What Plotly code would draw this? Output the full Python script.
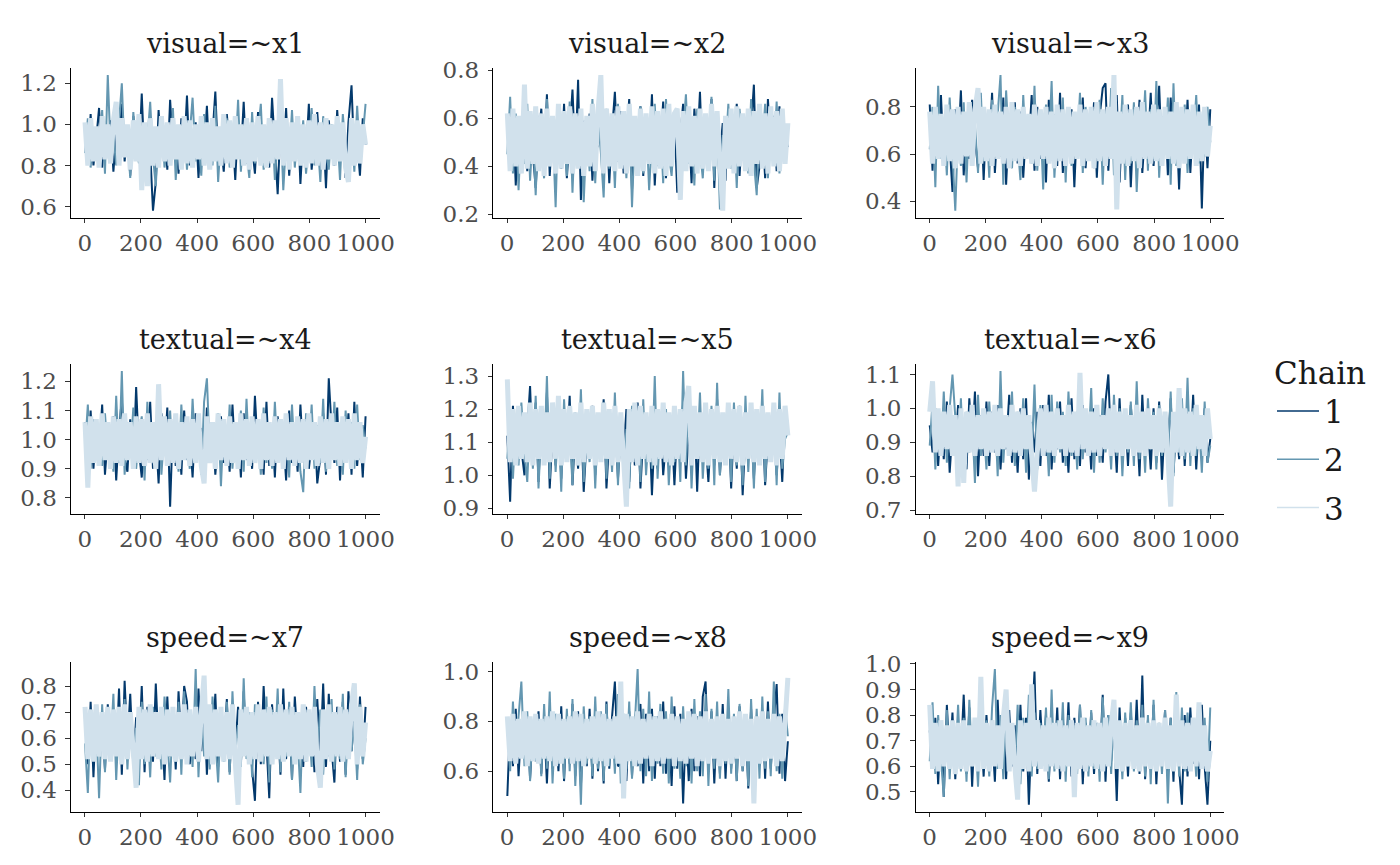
import numpy as np
import plotly.graph_objects as go

# ---------------- data (read / estimated from the picture) ----------------
panel_titles = ["visual=~x1", "visual=~x2", "visual=~x3",
                "textual=~x4", "textual=~x5", "textual=~x6",
                "speed=~x7", "speed=~x8", "speed=~x9"]
chain_names = ["1", "2", "3"]
chain_colors = ["#03396c", "#6497b1", "#d1e1ec"]
chain_widths = [2.0, 2.0, 5.0]
n_draws = 100
iterations = np.linspace(1, 1000, n_draws).round()

x1_chain1 = [0.97,0.84,1.05,0.80,0.93,1.08,0.79,0.99,0.86,1.02, 0.77,0.95,0.88,1.10,0.82,0.97,0.75,1.04,0.90,0.83, 1.15,0.81,0.96,0.87,0.58,0.72,1.07,0.85,0.99,0.78, 1.12,0.89,0.94,0.76,1.03,0.86,1.14,0.80,0.92,1.01, 0.74,0.98,0.87,1.09,0.79,0.95,1.16,0.83,0.90,0.77, 1.05,0.88,0.97,0.73,1.02,0.85,1.11,0.81,0.94,0.89, 0.76,1.06,0.84,0.99,0.92,0.79,1.13,0.87,0.66,1.00, 0.82,1.08,0.75,0.95,0.88,1.04,0.71,0.97,0.85,1.10, 0.78,0.93,1.06,0.84,0.99,0.69,1.02,0.88,0.80,1.07, 0.86,0.96,0.74,1.01,1.19,0.83,0.92,0.75,1.03,0.90]
x1_chain2 = [0.86,1.03,0.79,0.98,0.91,0.82,1.07,0.76,1.24,0.88, 0.95,0.80,1.01,1.20,0.85,0.93,0.74,1.06,0.89,0.81, 1.00,0.77,0.92,1.11,0.84,0.70,0.97,1.04,0.79,0.90, 0.83,1.08,0.73,0.96,0.87,1.02,0.78,0.94,1.13,0.82, 0.91,0.75,1.05,0.86,0.99,0.80,1.09,0.72,0.95,0.88, 1.03,0.79,0.93,0.84,1.12,0.77,0.98,0.87,0.74,1.06, 0.81,0.96,1.10,0.78,0.90,0.85,1.01,0.73,0.94,1.04, 0.68,0.92,0.83,1.07,0.79,0.97,0.86,1.02,0.76,0.91, 1.08,0.80,0.95,0.72,1.04,0.87,0.78,1.00,0.84,0.97, 0.73,1.05,0.88,0.81,0.99,0.77,1.09,0.85,0.94,1.10]
x1_chain3 = [1.01,0.80,1.03,0.82,0.99,0.79,1.04,0.83,1.00,0.81, 1.02,1.11,0.80,1.03,0.84,1.00,0.78,1.02,0.82,1.05, 0.68,1.01,0.70,1.03,0.80,0.99,0.79,1.04,0.82,1.01, 0.80,1.03,0.83,1.00,0.78,1.04,0.81,1.02,0.79,1.00, 0.83,1.04,0.80,1.01,0.78,1.03,0.82,0.99,0.80,1.05, 0.81,1.02,0.79,1.04,0.83,1.00,0.80,1.03,0.78,1.01, 0.82,1.04,0.80,1.00,0.79,1.03,0.81,1.02,0.83,1.22, 0.80,1.03,0.78,1.01,0.82,1.04,0.80,1.00,0.79,1.02, 0.81,1.05,0.80,1.01,0.78,1.03,0.83,1.00,0.80,1.04, 0.82,1.01,0.79,0.72,1.03,0.80,1.02,0.81,1.00,0.90]

x2_chain1 = [0.58,0.41,0.63,0.32,0.55,0.47,0.67,0.38,0.60,0.44, 0.31,0.52,0.64,0.42,0.70,0.36,0.57,0.46,0.61,0.39, 0.66,0.35,0.54,0.72,0.43,0.76,0.26,0.59,0.45,0.62, 0.34,0.57,0.48,0.69,0.40,0.61,0.33,0.55,0.71,0.42, 0.63,0.37,0.52,0.68,0.30,0.58,0.46,0.65,0.36,0.60, 0.44,0.70,0.32,0.56,0.49,0.67,0.35,0.62,0.41,0.59, 0.29,0.53,0.66,0.40,0.57,0.33,0.64,0.47,0.71,0.38, 0.55,0.43,0.68,0.31,0.60,0.45,0.58,0.34,0.63,0.42, 0.51,0.66,0.36,0.59,0.44,0.62,0.56,0.74,0.31,0.40, 0.57,0.35,0.68,0.46,0.61,0.38,0.65,0.43,0.54,0.48]
x2_chain2 = [0.45,0.69,0.37,0.62,0.30,0.58,0.41,0.66,0.34,0.55, 0.28,0.61,0.47,0.35,0.68,0.40,0.57,0.23,0.64,0.43, 0.53,0.36,0.67,0.29,0.59,0.44,0.62,0.25,0.56,0.38, 0.68,0.33,0.60,0.46,0.27,0.64,0.39,0.58,0.31,0.66, 0.42,0.57,0.35,0.63,0.23,0.55,0.48,0.65,0.37,0.60, 0.30,0.52,0.66,0.40,0.59,0.33,0.68,0.45,0.36,0.56, 0.62,0.38,0.54,0.70,0.41,0.58,0.32,0.64,0.47,0.35, 0.57,0.43,0.69,0.34,0.61,0.22,0.53,0.46,0.66,0.39, 0.59,0.31,0.64,0.44,0.56,0.37,0.68,0.42,0.28,0.60, 0.48,0.66,0.35,0.58,0.43,0.67,0.37,0.62,0.45,0.56]
x2_chain3 = [0.62,0.38,0.64,0.40,0.61,0.37,0.74,0.39,0.63,0.41, 0.65,0.38,0.62,0.36,0.64,0.40,0.61,0.37,0.66,0.39, 0.63,0.41,0.65,0.37,0.62,0.39,0.64,0.36,0.61,0.40, 0.66,0.38,0.63,0.78,0.37,0.64,0.40,0.62,0.38,0.65, 0.39,0.63,0.37,0.66,0.40,0.61,0.36,0.64,0.38,0.62, 0.41,0.65,0.37,0.63,0.39,0.64,0.36,0.66,0.40,0.62, 0.64,0.26,0.63,0.38,0.65,0.40,0.61,0.37,0.64,0.39, 0.62,0.38,0.66,0.40,0.63,0.37,0.215,0.61,0.39,0.64, 0.37,0.65,0.40,0.62,0.38,0.64,0.36,0.63,0.41,0.66, 0.39,0.62,0.37,0.65,0.40,0.63,0.38,0.64,0.41,0.58]

x3_chain1 = [0.81,0.53,0.76,0.60,0.85,0.57,0.72,0.64,0.44,0.79, 0.62,0.87,0.51,0.74,0.58,0.83,0.66,0.54,0.80,0.49, 0.77,0.61,0.86,0.52,0.73,0.59,0.84,0.47,0.75,0.63, 0.82,0.56,0.78,0.50,0.71,0.64,0.85,0.53,0.80,0.58, 0.74,0.48,0.83,0.60,0.77,0.55,0.86,0.52,0.73,0.61, 0.79,0.46,0.75,0.63,0.84,0.54,0.71,0.59,0.82,0.50, 0.76,0.88,0.90,0.53,0.78,0.62,0.85,0.48,0.74,0.57, 0.81,0.46,0.77,0.60,0.83,0.52,0.70,0.64,0.86,0.55, 0.72,0.89,0.58,0.79,0.51,0.84,0.61,0.76,0.45,0.80, 0.57,0.83,0.52,0.75,0.62,0.81,0.37,0.78,0.54,0.79]
x3_chain2 = [0.62,0.80,0.46,0.89,0.58,0.75,0.51,0.84,0.60,0.36, 0.70,0.55,0.82,0.48,0.78,0.61,0.73,0.52,0.86,0.57, 0.74,0.50,0.83,0.59,0.77,0.935,0.47,0.87,0.63,0.54, 0.80,0.64,0.49,0.85,0.61,0.73,0.56,0.89,0.53,0.76, 0.45,0.81,0.62,0.91,0.50,0.72,0.58,0.84,0.48,0.79, 0.55,0.75,0.63,0.86,0.52,0.80,0.60,0.73,0.54,0.70, 0.83,0.47,0.78,0.59,0.88,0.51,0.74,0.62,0.85,0.49, 0.77,0.56,0.82,0.44,0.71,0.63,0.87,0.53,0.79,0.58, 0.91,0.50,0.76,0.61,0.84,0.47,0.90,0.55,0.73,0.60, 0.81,0.52,0.77,0.64,0.85,0.56,0.72,0.59,0.80,0.65]
x3_chain3 = [0.78,0.56,0.80,0.58,0.77,0.55,0.81,0.57,0.79,0.54, 0.80,0.56,0.78,0.59,0.82,0.55,0.79,0.88,0.56,0.80, 0.57,0.79,0.55,0.81,0.58,0.78,0.56,0.80,0.54,0.82, 0.57,0.79,0.55,0.80,0.58,0.77,0.56,0.81,0.55,0.79, 0.58,0.80,0.56,0.78,0.54,0.81,0.57,0.79,0.55,0.80, 0.56,0.78,0.58,0.81,0.55,0.79,0.57,0.80,0.54,0.82, 0.57,0.79,0.55,0.80,0.58,0.935,0.365,0.78,0.56,0.81, 0.55,0.79,0.57,0.80,0.54,0.82,0.58,0.78,0.56,0.81, 0.57,0.79,0.55,0.80,0.58,0.78,0.56,0.82,0.54,0.80, 0.56,0.79,0.58,0.81,0.55,0.78,0.57,0.80,0.59,0.72]

x4_chain1 = [1.06,0.93,1.10,0.90,1.04,0.95,1.12,0.88,1.01,0.92, 1.08,0.86,1.03,1.14,0.94,0.89,1.07,0.91,1.18,0.96, 0.87,1.05,0.93,1.13,0.90,1.02,0.85,1.09,0.95,1.11, 0.77,1.06,0.91,1.04,0.88,1.10,0.93,1.02,0.87,1.09, 0.96,1.04,0.90,1.11,0.94,1.06,0.88,1.00,1.08,0.92, 1.03,0.89,1.12,0.94,1.05,0.87,1.09,0.93,1.02,0.90, 1.15,0.95,1.06,0.88,1.13,0.91,1.05,0.87,1.08,0.93, 1.02,0.86,1.10,0.92,1.04,0.89,1.12,0.94,1.07,0.90, 0.99,1.06,0.85,0.94,1.09,0.88,1.21,1.04,0.92,1.11, 0.86,1.06,0.94,1.09,0.88,1.13,0.91,1.04,0.87,1.08]
x4_chain2 = [0.97,1.12,0.90,1.07,0.93,1.03,0.91,1.09,0.95,1.04, 0.89,1.15,0.92,1.235,0.88,1.06,0.94,1.11,0.90,1.02, 1.08,0.86,1.13,0.93,1.05,0.91,1.16,0.88,1.04,0.94, 1.10,0.92,1.05,0.89,1.12,0.95,1.01,0.90,1.14,0.93, 1.07,0.88,1.13,1.21,0.96,1.03,0.91,1.09,0.84,1.06, 0.92,1.12,0.90,1.05,0.94,1.10,0.89,1.14,0.93,1.07, 0.95,1.03,0.88,1.11,0.92,1.06,0.90,1.13,0.94,1.02, 0.91,1.08,0.87,1.12,0.93,1.04,0.89,0.82,1.09,0.95, 1.12,0.90,1.05,0.92,1.14,0.89,1.07,0.95,1.13,0.91, 1.03,0.88,1.10,0.94,1.06,0.90,1.12,0.93,1.05,0.97]
x4_chain3 = [1.06,0.835,1.08,0.92,1.07,0.91,1.09,0.93,1.06,0.90, 1.08,0.92,1.07,0.91,1.09,0.93,1.06,0.90,1.08,0.92, 1.07,0.91,1.09,0.92,1.06,0.90,1.19,0.93,1.08,0.91, 1.07,0.92,1.09,0.90,1.06,0.93,1.08,0.91,1.07,0.92, 1.09,0.91,0.85,1.08,0.92,1.06,0.90,1.09,0.93,1.07, 0.91,1.08,0.92,1.06,0.90,1.09,0.93,1.07,0.91,1.08, 0.92,1.07,0.90,1.09,0.93,1.06,0.91,1.08,0.92,1.07, 0.90,1.09,0.93,1.06,0.91,1.08,0.92,1.07,0.90,1.09, 0.93,1.06,0.91,1.08,0.92,1.07,0.90,1.09,0.93,1.06, 0.91,1.08,0.92,1.07,0.90,1.09,0.93,1.06,0.92,1.01]

x5_chain1 = [1.12,0.92,1.21,1.05,1.18,1.08,1.00,1.15,1.27,1.04, 1.22,0.98,1.17,1.06,1.25,0.96,1.13,1.03,1.20,0.99, 1.16,1.07,1.24,0.97,1.14,1.02,1.19,0.95,1.12,1.05, 1.21,1.00,1.16,1.08,1.23,0.96,1.11,1.04,1.18,0.99, 1.13,1.06,1.20,0.98,1.15,1.03,1.22,0.96,1.12,1.07, 1.17,0.94,1.14,1.02,1.19,1.00,1.10,1.05,1.16,0.97, 1.15,1.08,1.22,0.99,1.13,1.04,1.20,0.95,1.18,1.06, 1.11,0.98,1.17,1.03,1.23,1.00,1.14,1.07,1.19,0.96, 1.16,1.02,1.21,0.94,1.13,1.05,1.18,0.99,1.15,1.04, 1.20,0.97,1.12,1.06,1.17,1.00,1.14,0.98,1.19,1.15]
x5_chain2 = [1.05,1.20,0.99,1.16,1.03,1.22,1.07,0.98,1.18,1.02, 1.24,0.96,1.15,1.04,1.30,0.99,1.21,1.01,1.17,0.95, 1.23,1.06,1.14,0.97,1.19,1.03,1.26,0.98,1.12,1.04, 1.20,0.96,1.17,1.05,1.22,0.99,1.16,1.01,1.25,0.97, 1.18,1.03,1.14,0.96,1.21,1.05,1.17,0.98,1.23,1.00, 1.15,1.02,1.30,0.99,1.16,1.06,1.20,0.97,1.13,1.04, 1.18,0.98,1.315,1.03,1.22,0.96,1.17,1.05,1.25,0.99, 1.14,1.02,1.21,0.97,1.28,1.00,1.16,1.06,1.19,0.98, 1.22,1.03,1.15,0.97,1.24,1.01,1.18,0.96,1.20,1.04, 1.26,0.98,1.14,1.05,1.20,0.97,1.25,1.02,1.11,1.13]
x5_chain3 = [1.29,1.04,1.20,1.03,1.21,1.05,1.19,1.04,1.22,1.03, 1.20,1.05,1.21,1.03,1.19,1.04,1.22,1.05,1.24,1.03, 1.20,1.04,1.21,1.05,1.19,1.03,1.22,1.04,1.20,1.05, 1.21,1.03,1.19,1.04,1.22,1.05,1.20,1.03,1.21,1.04, 1.19,1.05,0.905,1.20,1.04,1.22,1.03,1.21,1.05,1.19, 1.04,1.21,1.03,1.20,1.05,1.22,1.04,1.19,1.03,1.21, 1.05,1.20,1.04,1.22,1.27,1.03,1.21,1.05,1.19,1.04, 1.22,1.03,1.20,1.05,1.21,1.04,1.19,1.03,1.22,1.05, 1.20,1.04,1.21,1.03,1.19,1.05,1.22,1.04,1.20,1.03, 1.21,1.05,1.19,1.04,1.22,1.03,1.20,1.05,1.21,1.12]

x6_chain1 = [0.95,0.87,1.00,0.83,0.97,0.85,1.02,0.81,0.94,0.88, 1.01,0.84,0.96,0.82,1.03,0.89,1.05,0.80,0.98,0.86, 1.02,0.83,0.99,0.87,1.01,0.82,0.95,0.88,1.04,0.84, 0.97,0.81,1.00,0.85,1.03,0.79,0.96,0.87,0.99,0.83, 1.01,0.86,1.04,0.82,0.97,0.88,1.02,0.84,0.95,0.81, 1.03,0.85,0.99,0.83,1.01,0.87,0.96,0.82,1.00,0.86, 0.98,0.84,1.02,1.10,0.88,0.96,0.81,1.03,0.85,0.99, 0.83,1.01,0.87,0.97,0.80,1.04,0.86,0.95,0.82,1.00, 0.84,1.02,0.79,0.98,0.87,1.03,0.81,0.96,0.85,1.01, 0.83,0.99,0.86,1.04,0.82,0.97,0.88,1.00,0.84,0.91]
x6_chain2 = [0.89,1.02,0.82,0.98,0.86,1.05,0.84,1.00,1.10,0.96, 0.85,1.03,0.83,0.99,0.87,0.97,0.78,1.04,0.86,0.95, 0.82,1.02,0.88,1.00,0.80,1.11,0.84,0.98,0.87,1.05, 0.83,0.99,0.86,1.03,0.81,0.97,0.85,1.07,0.82,1.01, 0.88,0.96,0.80,1.04,0.84,1.02,0.87,0.99,0.83,1.05, 0.86,0.98,0.82,1.01,0.85,0.97,0.89,1.06,0.81,1.00, 0.84,1.03,0.87,0.96,0.82,1.04,0.86,1.00,0.80,0.98, 0.87,1.02,0.83,1.08,0.85,0.97,0.81,1.03,0.88,0.99, 0.82,1.01,0.86,0.97,0.84,1.05,0.80,0.98,0.87,1.03, 0.85,1.09,0.83,1.00,0.86,0.96,0.81,1.02,0.84,0.89]
x6_chain3 = [0.99,1.08,0.87,1.00,0.86,0.99,0.88,1.01,0.86,0.98, 0.77,1.00,0.78,0.99,0.87,1.01,0.86,0.98,0.88,1.00, 0.86,0.99,0.87,1.01,0.86,1.00,0.88,0.98,0.86,1.01, 0.87,0.99,0.86,1.00,0.88,0.98,0.86,0.755,0.87,1.00, 0.86,1.01,0.87,0.99,0.86,1.00,0.88,0.98,0.86,1.01, 0.87,0.99,0.86,1.105,0.88,1.00,0.86,0.99,0.87,1.01, 0.86,0.98,0.88,1.00,0.86,1.01,0.87,0.99,0.86,1.00, 0.88,0.98,0.86,1.01,0.87,0.99,0.86,1.00,0.88,0.98, 0.86,1.00,0.87,0.99,0.86,0.71,0.99,0.87,1.06,0.86, 1.00,0.87,0.99,0.86,1.01,0.88,0.98,0.86,1.00,0.91]

x7_chain1 = [0.68,0.50,0.74,0.45,0.70,0.55,0.66,0.48,0.73,0.57, 0.64,0.52,0.79,0.46,0.82,0.58,0.77,0.49,0.68,0.54, 0.80,0.47,0.72,0.60,0.51,0.81,0.56,0.69,0.44,0.76, 0.53,0.71,0.48,0.78,0.57,0.80,0.74,0.50,0.67,0.52, 0.79,0.55,0.73,0.46,0.71,0.58,0.77,0.49,0.70,0.54, 0.75,0.47,0.69,0.56,0.72,0.50,0.78,0.53,0.66,0.48, 0.36,0.74,0.50,0.80,0.57,0.37,0.73,0.55,0.67,0.46, 0.79,0.52,0.70,0.44,0.76,0.58,0.68,0.49,0.72,0.54, 0.66,0.47,0.75,0.53,0.81,0.49,0.77,0.56,0.43,0.72, 0.51,0.74,0.46,0.78,0.55,0.69,0.48,0.76,0.52,0.72]
x7_chain2 = [0.58,0.39,0.71,0.53,0.66,0.37,0.73,0.47,0.69,0.56, 0.77,0.44,0.68,0.51,0.75,0.48,0.70,0.55,0.64,0.42, 0.74,0.50,0.67,0.45,0.72,0.53,0.66,0.48,0.76,0.57, 0.43,0.69,0.51,0.74,0.46,0.78,0.54,0.65,0.49,0.865, 0.45,0.72,0.53,0.66,0.48,0.76,0.57,0.43,0.69,0.51, 0.74,0.46,0.78,0.54,0.65,0.49,0.83,0.52,0.70,0.45, 0.73,0.56,0.67,0.50,0.76,0.43,0.71,0.55,0.79,0.47, 0.68,0.53,0.74,0.44,0.70,0.60,0.39,0.72,0.51,0.66, 0.49,0.80,0.55,0.71,0.46,0.67,0.53,0.75,0.48,0.69, 0.52,0.77,0.45,0.70,0.55,0.66,0.44,0.73,0.50,0.60]
x7_chain3 = [0.72,0.52,0.71,0.51,0.73,0.53,0.70,0.52,0.72,0.51, 0.71,0.53,0.72,0.50,0.73,0.52,0.70,0.51,0.41,0.72, 0.52,0.71,0.51,0.73,0.53,0.70,0.52,0.72,0.50,0.71, 0.53,0.72,0.51,0.70,0.52,0.73,0.50,0.71,0.53,0.72, 0.51,0.70,0.84,0.52,0.73,0.50,0.71,0.53,0.72,0.51, 0.70,0.52,0.73,0.51,0.345,0.71,0.53,0.72,0.50,0.70, 0.52,0.73,0.51,0.71,0.53,0.72,0.50,0.70,0.52,0.73, 0.51,0.71,0.53,0.72,0.50,0.70,0.52,0.73,0.51,0.71, 0.53,0.72,0.50,0.41,0.71,0.52,0.73,0.51,0.70,0.53, 0.72,0.51,0.71,0.52,0.73,0.81,0.50,0.72,0.53,0.66]

x8_chain1 = [0.50,0.80,0.62,0.85,0.58,0.79,0.66,0.82,0.57,0.76, 0.64,0.84,0.59,0.80,0.55,0.83,0.61,0.78,0.60,0.86, 0.56,0.81,0.63,0.87,0.58,0.84,0.54,0.80,0.62,0.85, 0.57,0.83,0.60,0.79,0.55,0.88,0.61,0.82,0.96,0.62, 0.63,0.80,0.56,0.84,0.58,0.81,0.62,0.87,0.55,0.83, 0.60,0.85,0.57,0.82,0.62,0.88,0.59,0.80,0.54,0.86, 0.61,0.83,0.47,0.79,0.56,0.85,0.60,0.82,0.58,0.90, 0.96,0.62,0.84,0.55,0.81,0.59,0.87,0.57,0.83,0.61, 0.80,0.56,0.86,0.60,0.82,0.53,0.85,0.58,0.81,0.62, 0.84,0.57,0.88,0.61,0.80,0.95,0.59,0.83,0.56,0.72]
x8_chain2 = [0.78,0.60,0.88,0.64,0.82,0.96,0.62,0.84,0.56,0.80, 0.64,0.81,0.58,0.87,0.61,0.92,0.55,0.83,0.63,0.79, 0.57,0.85,0.60,0.89,0.54,0.80,0.465,0.86,0.63,0.82, 0.58,0.90,0.61,0.84,0.56,0.87,0.62,0.80,0.59,0.91, 0.55,0.83,0.61,0.88,0.57,0.82,1.01,0.60,0.85,0.58, 0.92,0.56,0.82,0.63,0.87,0.59,0.84,0.55,0.90,0.61, 0.80,0.57,0.86,0.62,0.83,0.55,0.89,0.60,0.84,0.58, 0.91,0.54,0.85,0.61,0.88,0.57,0.82,0.63,0.93,0.59, 0.83,0.56,0.87,0.60,0.81,0.54,0.89,0.62,0.85,0.57, 0.90,0.61,0.84,0.58,0.96,0.60,0.83,0.57,0.86,0.74]
x8_chain3 = [0.82,0.64,0.83,0.63,0.81,0.65,0.84,0.62,0.82,0.64, 0.83,0.63,0.81,0.65,0.82,0.64,0.84,0.62,0.83,0.63, 0.81,0.65,0.82,0.63,0.84,0.64,0.83,0.62,0.81,0.65, 0.82,0.63,0.84,0.64,0.83,0.62,0.81,0.65,0.82,0.63, 0.96,0.49,0.83,0.64,0.82,0.62,0.84,0.63,0.81,0.65, 0.83,0.62,0.82,0.64,0.84,0.63,0.81,0.65,0.83,0.62, 0.82,0.64,0.81,0.63,0.84,0.65,0.83,0.62,0.82,0.64, 0.84,0.63,0.81,0.65,0.82,0.62,0.83,0.64,0.81,0.63, 0.82,0.65,0.84,0.62,0.83,0.64,0.81,0.47,0.82,0.63, 0.84,0.64,0.81,0.65,0.83,0.62,0.82,0.64,0.80,0.975]

x9_chain1 = [0.74,0.60,0.79,0.53,0.76,0.48,0.84,0.62,0.81,0.55, 0.77,0.64,0.88,0.57,0.83,0.52,0.78,0.61,0.75,0.56, 0.80,0.63,0.73,0.54,0.86,0.59,0.77,0.55,0.82,0.60, 0.76,0.53,0.84,0.58,0.79,0.45,0.74,0.97,0.57,0.82, 0.62,0.80,0.54,0.76,0.60,0.83,0.55,0.78,0.61,0.85, 0.56,0.79,0.62,0.84,0.53,0.77,0.59,0.81,0.57,0.75, 0.60,0.88,0.54,0.80,0.62,0.77,0.465,0.83,0.58,0.79, 0.56,0.81,0.61,0.86,0.57,0.955,0.55,0.78,0.60,0.84, 0.53,0.76,0.62,0.82,0.57,0.79,0.54,0.85,0.59,0.45, 0.80,0.56,0.83,0.61,0.78,0.55,0.84,0.60,0.45,0.70]
x9_chain2 = [0.62,0.85,0.57,0.80,0.63,0.48,0.82,0.55,0.77,0.61, 0.84,0.58,0.79,0.54,0.86,0.60,0.75,0.52,0.81,0.62, 0.78,0.56,0.83,0.98,0.59,0.80,0.55,0.86,0.61,0.76, 0.57,0.84,0.53,0.79,0.62,0.88,0.56,0.81,0.59,0.77, 0.63,0.83,0.55,0.90,0.58,0.78,0.61,0.85,0.54,0.80, 0.60,0.76,0.57,0.84,0.62,0.79,0.56,0.82,0.59,0.77, 0.54,0.87,0.61,0.80,0.57,0.83,0.63,0.76,0.55,0.81, 0.60,0.85,0.58,0.78,0.62,0.84,0.56,0.80,0.53,0.86, 0.61,0.77,0.57,0.82,0.455,0.79,0.60,0.89,0.56,0.83, 0.58,0.81,0.62,0.75,0.56,0.84,0.60,0.79,0.54,0.83]
x9_chain3 = [0.84,0.59,0.77,0.58,0.78,0.60,0.76,0.59,0.78,0.57, 0.77,0.59,0.78,0.58,0.76,0.60,0.79,0.58,0.95,0.59, 0.77,0.58,0.78,0.60,0.76,0.59,0.79,0.90,0.58,0.77, 0.60,0.47,0.78,0.59,0.77,0.58,0.92,0.60,0.78,0.59, 0.76,0.58,0.79,0.60,0.77,0.59,0.78,0.58,0.76,0.60, 0.78,0.48,0.77,0.59,0.79,0.58,0.76,0.60,0.78,0.59, 0.77,0.58,0.79,0.60,0.76,0.86,0.59,0.78,0.58,0.77, 0.60,0.78,0.59,0.76,0.58,0.79,0.60,0.77,0.59,0.78, 0.58,0.77,0.60,0.79,0.59,0.76,0.58,0.88,0.60,0.78, 0.59,0.77,0.58,0.79,0.60,0.85,0.59,0.76,0.58,0.66]

panels = [
    [x1_chain1, x1_chain2, x1_chain3],
    [x2_chain1, x2_chain2, x2_chain3],
    [x3_chain1, x3_chain2, x3_chain3],
    [x4_chain1, x4_chain2, x4_chain3],
    [x5_chain1, x5_chain2, x5_chain3],
    [x6_chain1, x6_chain2, x6_chain3],
    [x7_chain1, x7_chain2, x7_chain3],
    [x8_chain1, x8_chain2, x8_chain3],
    [x9_chain1, x9_chain2, x9_chain3],
]
y_tick_steps = [0.2, 0.2, 0.2, 0.1, 0.1, 0.1, 0.1, 0.2, 0.1]
x_tick_values = [0, 200, 400, 600, 800, 1000]

# ---------------- layout geometry (pixels inside the figure) ----------------
W, H = 1400, 865
col_left = [63.0, 485.3, 907.7]
panel_w = 308.6
row_top = [60.3, 356.3, 654.3]
panel_h = 149.2

FONT = "DejaVu Serif"
fig = go.Figure()
annotations = []
layout_axes = {}

for p in range(9):
    r, c = divmod(p, 3)
    sfx = "" if p == 0 else str(p + 1)
    xa, ya = "x" + sfx, "y" + sfx
    for ch in range(3):
        fig.add_trace(go.Scatter(
            x=iterations, y=panels[p][ch], mode="lines",
            line=dict(color=chain_colors[ch], width=chain_widths[ch]),
            name=chain_names[ch], legendgroup=chain_names[ch],
            showlegend=False, xaxis=xa, yaxis=ya, hoverinfo="skip"))
    allv = np.concatenate([np.asarray(v, float) for v in panels[p]])
    lo, hi = allv.min(), allv.max()
    pad = 0.05 * (hi - lo)
    x0 = col_left[c] / W
    x1 = (col_left[c] + panel_w) / W
    y0 = 1 - (row_top[r] + panel_h) / H
    y1 = 1 - row_top[r] / H
    common = dict(showline=True, linecolor="black", linewidth=1.2,
                  showgrid=False, zeroline=False, ticks="outside",
                  ticklen=4.5, tickwidth=1.1, tickcolor="#333333",
                  tickfont=dict(family=FONT, size=23, color="#4d4d4d"),
                  automargin=False)
    layout_axes["xaxis" + sfx] = dict(
        domain=[x0, x1], anchor=ya,
        range=[1 - 0.05 * 999, 1000 + 0.05 * 999],
        tickmode="array", tickvals=x_tick_values,
        ticktext=[str(v) for v in x_tick_values], **common)
    layout_axes["yaxis" + sfx] = dict(
        domain=[y0, y1], anchor=xa, range=[lo - pad, hi + pad],
        tick0=0, dtick=y_tick_steps[p], tickformat=".1f",
        ticklabelstandoff=4, **common)
    annotations.append(dict(
        text=panel_titles[p], xref="paper", yref="paper",
        x=(x0 + x1) / 2, y=y1, yshift=25, xanchor="center", yanchor="middle",
        showarrow=False, font=dict(family=FONT, size=27, color="#1a1a1a")))

# legend keys (thin lines, as in the reference legend)
for ch in range(3):
    fig.add_trace(go.Scatter(
        x=[None], y=[None], mode="lines",
        line=dict(color=chain_colors[ch], width=1.6),
        name=chain_names[ch], legendgroup=chain_names[ch],
        showlegend=True, xaxis="x", yaxis="y", hoverinfo="skip"))

fig.update_layout(
    width=W, height=H,
    margin=dict(l=0, r=0, t=0, b=0),
    paper_bgcolor="white", plot_bgcolor="white",
    template="none",
    annotations=annotations,
    showlegend=True,
    legend=dict(
        x=1264 / W, y=1 - 336 / H, xanchor="left", yanchor="top",
        title=dict(text="Chain", font=dict(family=FONT, size=31, color="#1a1a1a")),
        font=dict(family=FONT, size=31, color="#1a1a1a"),
        tracegroupgap=5, itemwidth=42, bgcolor="rgba(0,0,0,0)",
    ),
    **layout_axes,
)

fig.write_html("out.html")
